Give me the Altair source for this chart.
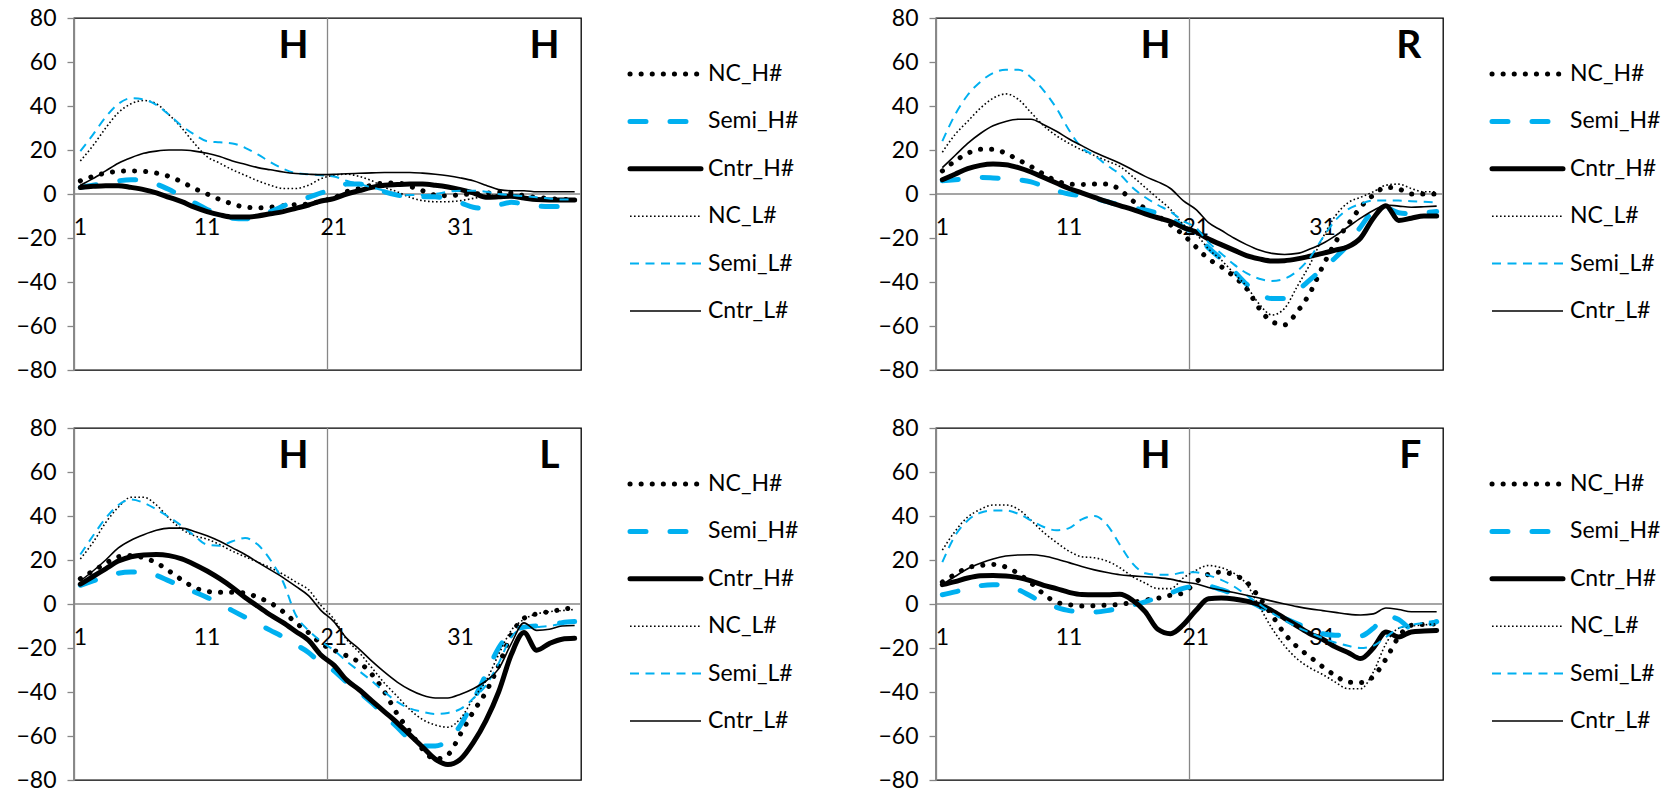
import altair as alt
import pandas as pd

# ---------------- data ----------------
X_VALUES = list(range(1, 41))
SERIES = ["NC_H#", "Semi_H#", "Cntr_H#", "NC_L#", "Semi_L#", "Cntr_L#"]
X_TICK_LABELS = [1, 11, 21, 31]
Y_TICKS = [-80, -60, -40, -20, 0, 20, 40, 60, 80]
DIVIDER_X = [20.5]
PANEL_LETTERS = [["H", "H"], ["H", "R"], ["H", "L"], ["H", "F"]]
LETTER_X = [19.0, 38.8]
LETTER_Y = [62, 62]

# panel 1 (H / H)
P1_NC_H = [6, 8, 9.5, 10.3, 10.5, 10.3, 9.5, 8, 5.5, 2.5, 0, -2.5, -4.5, -6, -6.3, -6, -5.3, -4.8, -4.5, -3.2,
           -1.8, 1, 2.5, 4, 5, 5, 3.5, 1.5, -0.5, -0.8, -0.3, 0, 0.3, 0.8, 0.5, -0.8, -1.5, -2, -2.5, -2.5]
P1_SEMI_H = [3, 4, 5, 6, 6.5, 6, 4.5, 2, -1, -4, -7, -9.5, -11, -11.3, -10, -8, -5.5, -3, -1.5, 0.5,
             2, 4.5, 4.5, 3, 1, -0.5, -1.2, -1.3, -1.2, -2.5, -4, -6, -6.5, -5, -3.8, -4.5, -5.5, -5.7, -5.7, -5.5]
P1_CNTR_H = [3, 3.5, 3.8, 3.8, 3, 2, 0.5, -1.5, -3.5, -6, -8, -9.5, -10.5, -10.5, -10, -9, -8, -6.5, -5, -3.2,
             -2.1, 0, 1.5, 3, 4, 4.3, 4.5, 4.5, 4, 3.2, 2, 0.5, -1.5, -1.3, -1, -1.8, -2.5, -2.7, -2.7, -2.7]
P1_NC_L = [15, 22, 30, 37, 41, 42.5, 41, 36, 30, 23, 17, 14, 11, 8.5, 6, 4, 2.5, 2.5, 4, 7,
           8.5, 9, 8, 6, 3, 1, -1.5, -3, -3.5, -3.5, -3, -2, -1, -0.5, -0.5, -1.5, -2, -2.5, -3, -3]
P1_SEMI_L = [19.5, 27, 35, 41, 43.5, 43, 40.5, 36, 31, 27, 24, 23.5, 23, 21, 18, 14.5, 11.5, 9.5, 9, 8.5,
             8, 6, 4.5, 3, 1.5, 0, -0.5, -0.5, 0, 1, 1.5, 1.5, 1, 0, -0.5, -1, -1.5, -2, -2.5, -2.5]
P1_CNTR_L = [4, 7, 10.5, 14, 16.5, 18.5, 19.5, 20, 20, 19.5, 18.5, 17, 15, 13.5, 12, 11, 10, 9.3, 9, 8.8,
             8.9, 9.2, 9.4, 9.6, 9.8, 9.8, 9.8, 9.5, 9, 8.3, 7.3, 6, 4, 2, 1.5, 1.5, 1, 1, 1, 1]

# panel 2 (H / R)
P2_NC_H = [10.5, 15, 18.5, 20.3, 20.3, 18.5, 15.5, 12.5, 9, 6, 4.5, 4.3, 4.5, 4.5, 2, -3, -6.5, -10, -14, -18.5,
           -24, -29.5, -33, -37.5, -43, -52, -58, -59.5, -53.5, -45, -33, -22, -14, -6, -0.5, 3, 2.3, 0, 0, 0]
P2_SEMI_H = [6, 6.5, 7, 7.5, 7.3, 7, 6.5, 5.5, 3.5, 1.5, 0, -0.8, -2, -3.5, -5, -6.3, -7.3, -8.8, -10.7, -15,
             -18.3, -24.5, -29.5, -35, -41, -45.5, -47.5, -47.5, -44, -39, -34, -29, -23, -15, -8, -6.5, -8.5, -9, -8.5, -8]
P2_CNTR_H = [6.5, 9, 11.5, 13, 13.6, 13.3, 12, 10, 7.5, 5, 2.5, 0.5, -1.5, -3.5, -5.3, -7, -9, -10.8, -12.5, -15.2,
             -17.2, -20.5, -23, -25.5, -28, -29.5, -30.5, -30.3, -29.5, -28.3, -27, -25.5, -24, -20, -11, -5.3, -12, -11, -10, -10]
P2_NC_L = [19, 27, 33, 39, 43.5, 45.5, 43, 37, 31, 26.5, 23, 20, 17.5, 15, 12.5, 8, 3, -2, -7, -13.8,
           -18, -25, -30, -36, -42, -50, -55, -52, -42, -32, -20, -10, -4, -1.5, 1, 4, 4.5, 2.5, 1, 1]
P2_SEMI_L = [24, 36, 45, 51, 55, 56.5, 56.5, 53, 47, 39, 29, 21, 17.5, 13, 9, 3, -1.5, -5, -8, -12.3,
             -15.3, -22, -27, -32, -36, -38.5, -39.5, -38.5, -35, -29, -20, -12, -7, -4.5, -3, -3, -3, -3.3, -3.5, -3.8]
P2_CNTR_L = [12, 17.5, 23, 27.5, 31, 33, 34, 34, 31.5, 28.5, 25, 22, 19, 16.5, 14, 11, 8, 5.5, 2.5, -3,
             -7, -13, -16.5, -20, -23, -25.5, -27, -27.5, -27, -25, -22.5, -19, -15, -11, -7.5, -5, -5.5, -6, -5.8, -5.5]

# panel 3 (H / L)
P3_NC_H = [11.5, 15, 18.5, 21.5, 22, 21, 18.7, 15, 11, 7.5, 5.7, 5.3, 5.3, 5, 3, 0.5, -3.5, -8.5, -13, -18,
           -21, -23.5, -26.5, -32, -40, -50, -58, -66, -70.5, -68.5, -59, -49, -40, -28, -14, -6.5, -4.5, -3.5, -2.5, -1.5]
P3_SEMI_H = [8.5, 10.5, 12.5, 14, 14.5, 14.5, 13, 10.5, 8, 5.5, 3, 0, -3, -6, -9, -12, -15, -18.5, -22, -27,
             -30.3, -35.5, -40, -45, -50.5, -56, -61.5, -64.5, -64.5, -62, -55, -44, -32, -20, -13, -10.5, -10, -9.5, -8.5, -8]
P3_CNTR_H = [9, 12.5, 16, 19.5, 21.5, 22.3, 22.5, 22, 20.5, 18, 15, 11.5, 7.5, 3, -1, -5, -8.5, -12.5, -16.5, -23.3,
             -27.8, -34.5, -39, -44, -49, -54, -59.5, -65, -70.5, -73, -70.5, -63, -53, -40, -23, -13, -21, -18, -16, -15.6]
P3_NC_L = [20.5, 28, 37, 44, 48.5, 48.5, 45, 39, 34, 31, 29.5, 27, 24, 21.5, 19, 16.5, 13.5, 10, 6.5, -0.8,
           -6.8, -16, -22, -29, -36, -42, -48, -52.5, -55, -56, -52, -43, -35, -23, -12, -7, -4.5, -3.5, -3, -2.5]
P3_SEMI_L = [22.5, 31, 39, 45, 47.5, 46, 43, 39.5, 35.5, 31, 27, 26.5, 28.5, 30, 27, 20, 10, -5, -12, -17,
             -21, -26, -30.5, -35, -40, -44.5, -47.5, -49, -50, -49.5, -47.7, -43, -37, -27, -15, -11, -10.5, -10, -9, -8]
P3_CNTR_L = [10.5, 15, 20, 25.5, 29, 31.5, 33.5, 34.5, 34.5, 33, 31, 28.5, 25.5, 22.5, 19, 15.5, 12, 8, 3.8, -3,
             -8, -15.5, -20.5, -26, -31, -35.5, -39, -41.5, -42.7, -42.7, -41, -38.5, -35, -29.5, -18, -8.6, -12, -11.5, -10, -9.8]

# panel 4 (H / F)
P4_NC_H = [10, 13.5, 16.5, 17.5, 18, 16.8, 13.8, 9.5, 4.5, 0.8, -0.3, -0.9, -0.8, -0.5, -0.2, 0.7, 1.8, 2.6, 4, 5,
           10, 13.5, 14.5, 13.2, 10, 3, -5, -13.5, -19.5, -24, -28.5, -32.5, -35.5, -35.7, -33, -25, -15, -9.7, -9.3, -9]
P4_SEMI_H = [4.2, 5.5, 7, 8.3, 8.8, 8.5, 6.5, 3.5, 0.5, -1.5, -3, -3.5, -3.6, -3, -1.8, -0.5, 1, 3, 5, 7.1,
             8, 8, 6.5, 4.5, 2, -1, -4, -6.5, -9, -11.5, -13.5, -14.2, -14, -14.5, -11, -5.5, -7, -11, -10, -8]
P4_CNTR_H = [8.8, 10.2, 11.8, 12.8, 13, 12.7, 12, 10.5, 8.5, 7, 5.3, 4.3, 4.2, 4.2, 4.4, 1.7, -3.5, -11.5, -13.5, -9.5,
             -3, 2.4, 2.7, 2.3, 1.3, -0.3, -3, -6.5, -10, -13.5, -16, -19.5, -22, -24.8, -20, -12.7, -15, -12.7, -12.3, -12]
P4_NC_L = [24.5, 33, 39.5, 43, 45, 45, 43, 38, 32.5, 28, 24, 21.5, 21, 19.5, 16.5, 12.5, 9.5, 7, 7, 11.8,
           15.3, 17.5, 16.5, 14, 9, -1, -11, -19, -25, -29, -32, -35.5, -38.5, -38.5, -31, -18, -11, -10, -9.5, -9]
P4_SEMI_L = [19, 31, 38, 41.5, 42.5, 42.5, 41, 38, 35, 33.5, 34.5, 38.5, 40, 36, 27, 18.5, 14, 13.3, 13.3, 14.3,
             14.4, 13, 11, 8, 4, 0, -4, -7.5, -10.5, -13, -15.5, -17.5, -19, -20, -19, -15, -11, -9.5, -8.5, -7.5]
P4_CNTR_L = [8.8, 12.5, 16, 18.5, 20.5, 21.8, 22.3, 22.4, 21.8, 20.5, 18.8, 17, 15.5, 14.3, 13.3, 12.8, 12.4, 12, 11.3, 10,
             9.2, 7.5, 6.3, 5.2, 4, 2.7, 1.3, 0, -1.2, -2.2, -3, -3.8, -4.6, -5, -4.5, -1.8, -2.5, -3.5, -3.5, -3.5]

PANELS = [
    [P1_NC_H, P1_SEMI_H, P1_CNTR_H, P1_NC_L, P1_SEMI_L, P1_CNTR_L],
    [P2_NC_H, P2_SEMI_H, P2_CNTR_H, P2_NC_L, P2_SEMI_L, P2_CNTR_L],
    [P3_NC_H, P3_SEMI_H, P3_CNTR_H, P3_NC_L, P3_SEMI_L, P3_CNTR_L],
    [P4_NC_H, P4_SEMI_H, P4_CNTR_H, P4_NC_L, P4_SEMI_L, P4_CNTR_L],
]

# ---------------- styles ----------------
FONT = "Lato"
GRAY = "#878787"
BLUE = "#00B0F0"
STYLE = {
    "NC_H#": dict(color="black", strokeWidth=5, strokeDash=[0.1, 11], strokeCap="round"),
    "Semi_H#": dict(color=BLUE, strokeWidth=5, strokeDash=[16, 24], strokeCap="round"),
    "Cntr_H#": dict(color="black", strokeWidth=5, strokeCap="round"),
    "NC_L#": dict(color="black", strokeWidth=1.6, strokeDash=[1.6, 2.4], strokeCap="butt"),
    "Semi_L#": dict(color=BLUE, strokeWidth=2, strokeDash=[9, 6.5], strokeCap="butt"),
    "Cntr_L#": dict(color="black", strokeWidth=1.6, strokeCap="butt"),
}

PLOT_W, PLOT_H = 507, 352

xscale = alt.Scale(domain=[0.5, 40.5], nice=False, zero=False)
yscale = alt.Scale(domain=[-80, 80], nice=False, zero=False)
yaxis = alt.Axis(values=Y_TICKS, grid=False, domainColor=GRAY, domainWidth=1.3,
                 tickColor=GRAY, tickWidth=1.3, tickSize=7, labelFontSize=23,
                 labelFont=FONT, labelColor="black", labelPadding=11, title=None)


def ypos(field):
    return alt.Y(field, scale=yscale, axis=yaxis)


def xpos(field):
    return alt.X(field, scale=xscale, axis=None)


def panel(values, letters):
    rows = []
    for s, vals in zip(SERIES, values):
        for x, v in zip(X_VALUES, vals):
            rows.append({"series": s, "x": x, "value": v})
    df = pd.DataFrame(rows)

    zero = alt.Chart(pd.DataFrame({"y": [0]})).mark_rule(color=GRAY, strokeWidth=1.3).encode(
        y=ypos("y:Q"))
    vline = alt.Chart(pd.DataFrame({"x": DIVIDER_X, "y": [0]})).mark_rule(color=GRAY, strokeWidth=1.3).encode(
        x=xpos("x:Q"))
    ticklabels = alt.Chart(pd.DataFrame({"x": X_TICK_LABELS, "y": [0] * len(X_TICK_LABELS)})).mark_text(
        font=FONT, fontSize=23, baseline="alphabetic", align="center", dy=41, color="black"
    ).encode(x=xpos("x:Q"), y=ypos("y:Q"), text=alt.Text("x:Q"))
    letter_df = pd.DataFrame({"x": LETTER_X, "y": LETTER_Y, "t": letters})
    big = alt.Chart(letter_df).mark_text(
        font=FONT, fontSize=39, fontWeight="bold", align="right", baseline="alphabetic", color="black"
    ).encode(x=xpos("x:Q"), y=ypos("y:Q"), text="t:N")

    layers = [zero, vline, ticklabels, big]
    for s in SERIES:
        st = STYLE[s]
        layers.append(
            alt.Chart(df).transform_filter(alt.datum.series == s).mark_line(
                interpolate="monotone", **st
            ).encode(x=xpos("x:Q"), y=ypos("value:Q"))
        )
    return alt.layer(*layers).properties(width=PLOT_W, height=PLOT_H)


def legend(width):
    rows = []
    for s in SERIES:
        rows.append({"series": s, "x": 0})
        rows.append({"series": s, "x": 1})
    ldf = pd.DataFrame(rows)
    lx = alt.Scale(domain=[0, 1], range=[49, 120])
    ly = alt.Scale(domain=SERIES, range=[56, 293], padding=0)
    layers = []
    for s in SERIES:
        layers.append(
            alt.Chart(ldf).transform_filter(alt.datum.series == s).mark_line(**STYLE[s]).encode(
                x=alt.X("x:Q", scale=lx, axis=None),
                y=alt.Y("series:N", scale=ly, axis=None),
            )
        )
    tdf = pd.DataFrame({"series": SERIES, "x": [1] * len(SERIES)})
    layers.append(
        alt.Chart(tdf).mark_text(font=FONT, fontSize=23, align="left", baseline="middle", dx=7,
                                 color="black").encode(
            x=alt.X("x:Q", scale=lx, axis=None),
            y=alt.Y("series:N", scale=ly, axis=None),
            text="series:N",
        )
    )
    return alt.layer(*layers).properties(width=width, height=PLOT_H,
                                         view=alt.ViewBackground(stroke="transparent"))


p = [panel(v, l) for v, l in zip(PANELS, PANEL_LETTERS)]

chart = alt.concat(
    p[0], legend(355), p[1], legend(230),
    p[2], legend(355), p[3], legend(230),
    columns=4, spacing={"row": 58, "column": 0}, bounds="flush",
).properties(
    padding={"left": 15, "top": 6, "right": 0, "bottom": 0},
    background="white",
).configure_view(stroke="black", strokeWidth=1.3)

chart.save("out.html", embed_options={"renderer": "svg", "actions": False})
